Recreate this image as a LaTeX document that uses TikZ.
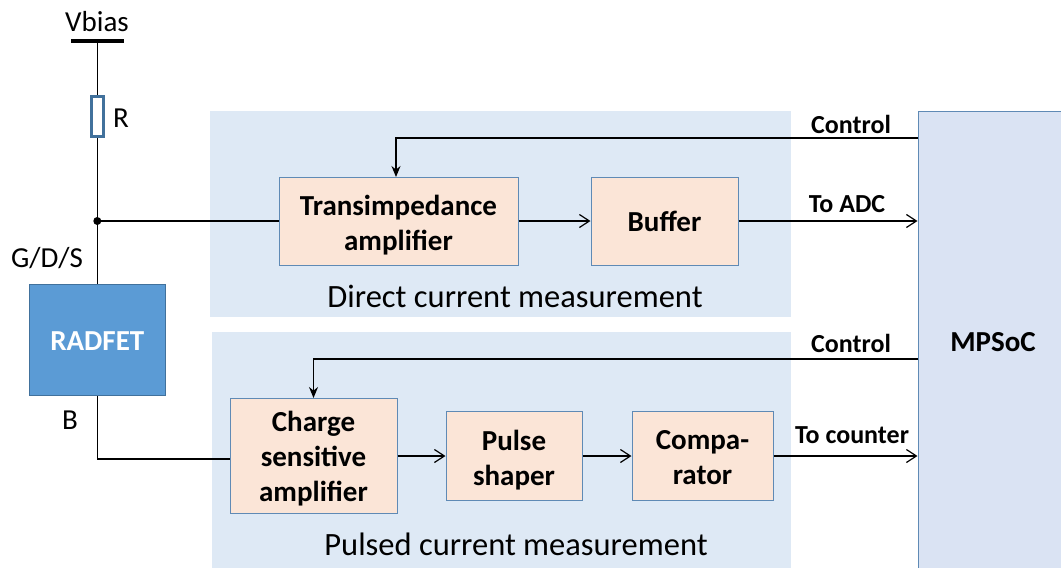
\documentclass[tikz,border=0pt]{standalone}
\usepackage{fontspec}
\setmainfont{Carlito}
\usetikzlibrary{positioning,arrows.meta}
\newcommand{\lowered}[1]{\rule{0pt}{#1}}

\begin{document}
\begin{tikzpicture}[%
			x=1pt,
			y=-1pt,
			align = center,
			font=\fontsize{29}{35}\selectfont,
			>={Straight Barb[length=10pt,width=13pt,line width=1.2pt]},
			panel/.style={%
				fill=panelblue,
				inner sep=0pt
			},
			block/.style={%
				draw=blockline,
				fill=blockfill,
				line width=1pt,
				inner sep=0pt,
				font=\fontsize{29}{35}\selectfont\bfseries
			},
			wire/.style={%
				line width=1.2pt
			},
			ctrl/.style={%
				line width=1.2pt,
				-{Stealth[length=11pt,width=9pt]}
			},
			lbl/.style={%
				font=\fontsize{26}{30}\selectfont\bfseries,
				inner sep=0pt
			},
			plain/.style={%
				inner sep=0pt
			}
			]
			\definecolor{panelblue}{HTML}{DEE9F5}
			\definecolor{blockfill}{HTML}{FBE5D7}
			\definecolor{blockline}{HTML}{5F8AB5}
			\definecolor{socfill}{HTML}{DAE3F3}
			\definecolor{fetfill}{HTML}{5B9BD5}
			\definecolor{resline}{HTML}{41719C}
			\useasboundingbox (0,0) rectangle (1061,568);
			\clip (0,0) rectangle (1061,568);
			% panels
			\node[panel, minimum width=581pt, minimum height=206pt] (direct) at (500.5,214) {};
			\node[panel, minimum width=579pt, minimum height=246pt] (pulsed) at (501.5,455) {};
			\node[plain, font=\fontsize{32.5}{38}\selectfont] (directlbl) at (515,296) {Direct current measurement};
			\node[plain, font=\fontsize{32.5}{38}\selectfont] (pulsedlbl) at (516,544) {Pulsed current measurement};
			% blocks
			\node[block, minimum width=239pt, minimum height=88pt] (tia) at (398.5,221) {\lowered{29pt}Transimpedance\\amplifier};
			\node[block, minimum width=147pt, minimum height=88pt] (buffer) [right=72pt of tia] {Buffer};
			\node[block, minimum width=167pt, minimum height=115pt] (csa) at (313.5,456) {\lowered{26pt}Charge\\sensitive\\amplifier};
			\node[block, minimum width=136pt, minimum height=89pt] (shaper) [right=48pt of csa] {\lowered{28pt}Pulse\\shaper};
			\node[block, minimum width=141pt, minimum height=89pt] (comp) [right=49pt of shaper] {\lowered{23pt}Compa-\\rator};
			\node[block, fill=socfill, minimum width=150pt, minimum height=462pt] (soc) at (993,342) {MPSoC};
			\node[block, draw=resline, fill=fetfill, text=white, minimum width=136pt, minimum height=111pt] (fet) at (97.3,340) {\lowered{20pt}RADFET};
			% bias branch
			\node[plain] (vbias) at (97,22) {Vbias};
			\node[fill=black, inner sep=0pt, minimum width=53pt, minimum height=4pt] (rail) at (97.3,41) {};
			\node[draw=resline, fill=white, line width=3pt, inner sep=0pt, minimum width=12pt, minimum height=40pt] (res) at (97.3,116.5) {};
			\node[plain] (rlbl) at (121,118) {R};
			\node[plain] (gds) at (47,258) {G/D/S};
			\node[plain] (blbl) at (70,420) {B};
			\fill (97.3,221) circle (4pt) coordinate (tap);
			\coordinate (bcorner) at (97.3,459);
			\draw[wire] (rail) -- (res);
			\draw[wire] (res) -- (fet);
			\draw[wire] (tap) -- (tia);
			\draw[wire] (fet) -- (bcorner) -- (bcorner -| csa.west);
			% signal path
			\draw[wire, ->] (tia) -- (buffer);
			\draw[wire, ->] (buffer) -- (buffer -| soc.west);
			\draw[wire, ->] (csa) -- (shaper);
			\draw[wire, ->] (shaper) -- (comp);
			\draw[wire, ->] (comp) -- (comp -| soc.west);
			\node[lbl] (adc) at (847,204) {To ADC};
			\node[lbl] (cnt) at (852,435) {To counter};
			% control lines
			\coordinate (ctrla) at (918,138);
			\coordinate (ctrlb) at (918,359);
			\coordinate (ctrlatip) at (396,177);
			\draw[ctrl] (ctrla) -- (ctrla -| ctrlatip) -- (ctrlatip);
			\draw[ctrl] (ctrlb) -- (ctrlb -| csa) -- (csa);
			\node[lbl] (ctrlalbl) at (851,124) {Control};
			\node[lbl] (ctrlblbl) at (851,343) {Control};
			\end{tikzpicture}
\end{document}
